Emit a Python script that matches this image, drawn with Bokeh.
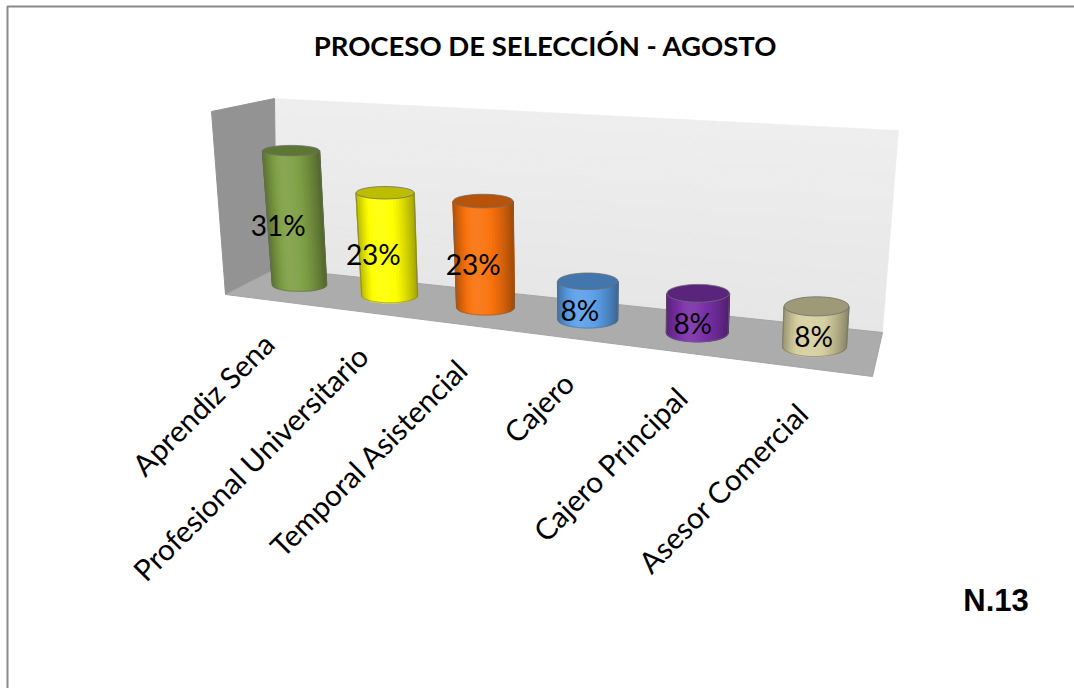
import math

from bokeh.core.properties import value
from bokeh.embed import file_html
from bokeh.models import Range1d
from bokeh.plotting import figure
from bokeh.resources import INLINE

TITLE = "PROCESO DE SELECCIÓN - AGOSTO"
NOTE = "N.13"
categories = [
    "Aprendiz Sena",
    "Profesional Universitario",
    "Temporal Asistencial",
    "Cajero",
    "Cajero Principal",
    "Asesor Comercial",
]
percentages = [31, 23, 23, 8, 8, 8]
body_colors = ["#7f9f45", "#ffff00", "#f9720c", "#5b9fe8", "#7a30a8", "#d6cfa0"]

WIDTH, HEIGHT = 1074, 688
BODY_FONT = value("Lato")


def mix(color, factor):
    """Scale an RGB hex colour; factors above 1 move it towards white."""
    channels = [int(color[k:k + 2], 16) for k in (1, 3, 5)]
    if factor <= 1:
        out = [round(c * factor) for c in channels]
    else:
        out = [round(c + (255 - c) * (factor - 1)) for c in channels]
    return "#%02x%02x%02x" % tuple(out)


def perspective(slot):
    return 1 - 0.0304 * slot


def base_center(slot):
    w = perspective(slot)
    return (299 + 78.26 * slot) / w, (284 + 1.88 * slot) / w


def cylinder_shape(slot, pct):
    bx, by = base_center(slot)
    rise = pct * (4.32 + 0.14 * slot)
    radius = 27.0 / perspective(slot)
    base_ry = 6.8 + 0.65 * slot
    top_x = bx + (bx - 590) * rise * 2.18e-4
    return {
        "bx": bx,
        "by": by,
        "tx": top_x,
        "ty": by - rise,
        "r": radius,
        "top_r": radius * (1 + rise * 0.0004),
        "ry": base_ry,
        "top_ry": base_ry - rise * 0.012,
    }


def ellipse_points(cx, cy, rx, ry, start, stop, count=40):
    xs, ys = [], []
    for k in range(count + 1):
        t = start + (stop - start) * k / count
        xs.append(cx + rx * math.cos(t))
        ys.append(cy + ry * math.sin(t))
    return xs, ys


def shade(position):
    """Side lighting across the visible width, position running 0 to 1."""
    if position < 0.38:
        return 0.70 + 0.38 * math.sin(position / 0.38 * math.pi / 2)
    return 1.08 - 0.42 * ((position - 0.38) / 0.62) ** 1.8


p = figure(
    width=WIDTH,
    height=HEIGHT,
    x_range=Range1d(0, WIDTH),
    y_range=Range1d(HEIGHT, 0),
    output_backend="svg",
    toolbar_location=None,
    min_border=0,
)
p.axis.visible = False
p.grid.visible = False
p.outline_line_color = None
p.background_fill_color = "#ffffff"
p.border_fill_color = "#ffffff"

# Chart frame: only the top and left edges fall inside the page.
p.line([7, 7, WIDTH], [HEIGHT, 6, 6], line_color="#8a8a8a", line_width=2)

# Back wall, painted as thin bands so it fades towards the top edge.
WALL_TOP_L, WALL_TOP_R = (274, 98), (898, 130)
WALL_BOT_L, WALL_BOT_R = (276, 268), (882, 332)
bands = 24
for k in range(bands):
    a, b = k / bands, (k + 1) / bands
    quad = []
    for f, (top, bot) in (
        (a, (WALL_TOP_L, WALL_BOT_L)),
        (a, (WALL_TOP_R, WALL_BOT_R)),
        (b, (WALL_TOP_R, WALL_BOT_R)),
        (b, (WALL_TOP_L, WALL_BOT_L)),
    ):
        quad.append((top[0] + (bot[0] - top[0]) * f, top[1] + (bot[1] - top[1]) * f))
    level = round(238 - 8 * a)
    color = "#%02x%02x%02x" % (level, level, level)
    p.patch([q[0] for q in quad], [q[1] for q in quad], fill_color=color, line_color=color, line_width=0.5)

# Side wall and floor.
p.patch([211, 274, 276, 225], [111, 98, 268, 294], fill_color="#939393", line_color="#939393")
p.patch([225, 276, 882, 872], [294, 268, 332, 376], fill_color="#acacac", line_color="#a4a4a4")

# Cylinders, drawn as overlapping vertical strips for the side lighting.
STRIPS = 30
for slot, (pct, color) in enumerate(zip(percentages, body_colors)):
    s = cylinder_shape(slot, pct)
    for k in range(STRIPS):
        t0 = math.pi - math.pi * k / STRIPS
        t1 = math.pi - math.pi * (k + 1) / STRIPS
        xs = [
            s["tx"] + s["top_r"] * math.cos(t0),
            s["tx"] + s["top_r"] * math.cos(t1),
            s["bx"] + s["r"] * math.cos(t1),
            s["bx"] + s["r"] * math.cos(t0),
        ]
        ys = [
            s["ty"] + s["top_ry"] * math.sin(t0),
            s["ty"] + s["top_ry"] * math.sin(t1),
            s["by"] + s["ry"] * math.sin(t1),
            s["by"] + s["ry"] * math.sin(t0),
        ]
        position = (1 - math.cos(math.pi * (k + 0.5) / STRIPS)) / 2
        tone = mix(color, shade(position))
        p.patch(xs, ys, fill_color=tone, line_color=tone, line_width=1.6)
    # Soft outline around the body.
    bx, by = ellipse_points(s["bx"], s["by"], s["r"], s["ry"], math.pi, 0)
    outline_x = [s["tx"] - s["top_r"]] + bx + [s["tx"] + s["top_r"]]
    outline_y = [s["ty"]] + by + [s["ty"]]
    p.line(outline_x, outline_y, line_color="#6a6a6a", line_alpha=0.55, line_width=1)
    # Darker cap with a grey rim.
    cx, cy = ellipse_points(s["tx"], s["ty"], s["top_r"], s["top_ry"], 0, 2 * math.pi)
    p.patch(cx, cy, fill_color=mix(color, 0.74), line_color="#6e6e6e", line_width=1, line_alpha=0.8)

# Value labels, sitting mid-height and drifting right along the row.
for slot, pct in enumerate(percentages):
    s = cylinder_shape(slot, pct)
    p.text(
        [(s["tx"] + s["bx"]) / 2 - 17 + 3 * slot],
        [(s["ty"] + s["by"]) / 2 + (7 if slot == 0 else 10)],
        text=[f"{pct}%"],
        text_font=BODY_FONT,
        text_font_size="28px",
        text_color="#000000",
        text_align="center",
        text_baseline="middle",
    )

# Category labels rise at 45 degrees towards the front edge of the floor.
for slot, name in enumerate(categories):
    bx, by = base_center(slot)
    p.text(
        [bx - 31 + 3.8 * slot],
        [by + 54 + 1.5 * slot],
        text=[name],
        text_font=BODY_FONT,
        text_font_size="29.5px",
        text_color="#000000",
        text_align="right",
        text_baseline="middle",
        angle=[math.radians(45)],
    )

p.text(
    [545],
    [45],
    text=[TITLE],
    text_font=BODY_FONT,
    text_font_style="bold",
    text_font_size="27.5px",
    text_color="#000000",
    text_align="center",
    text_baseline="middle",
)
p.text(
    [995.5],
    [600],
    text=[NOTE],
    text_font=value("Liberation Sans"),
    text_font_style="bold",
    text_font_size="31px",
    text_color="#000000",
    text_align="center",
    text_baseline="middle",
)

open("out.html", "w").write(file_html(p, INLINE))
